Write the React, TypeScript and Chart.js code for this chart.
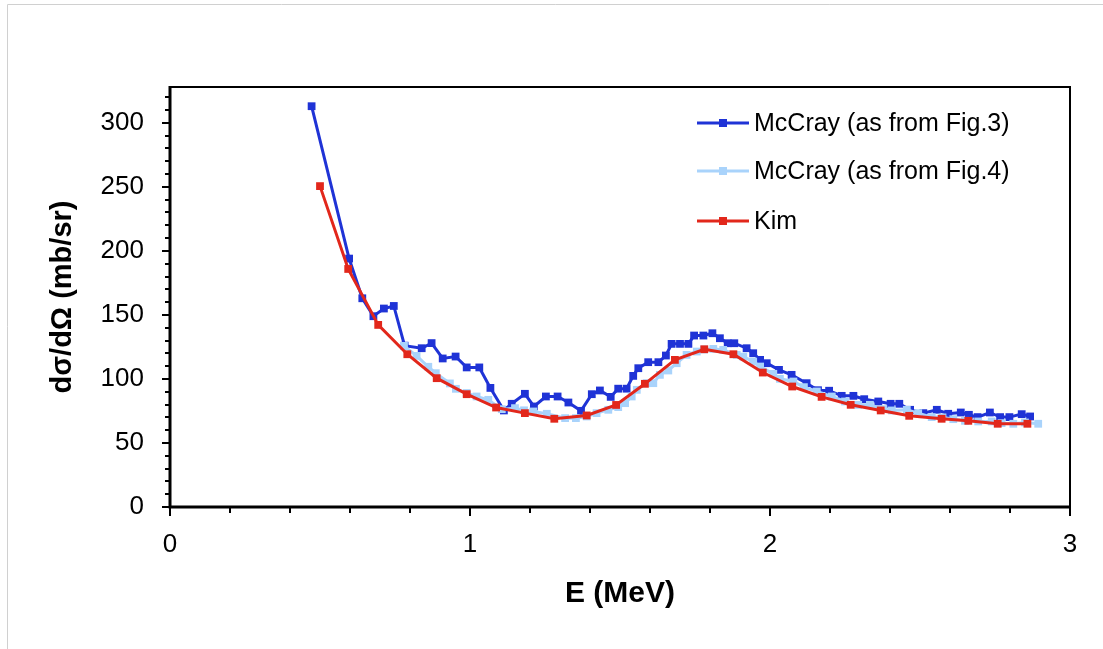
import React, { useEffect, useRef } from "react";
import { Chart, registerables } from "chart.js";

Chart.register(...registerables);

// ---- Data ----
const seriesLabels = ["McCray (as from Fig.3)", "McCray (as from Fig.4)", "Kim"];
const seriesColors = ["#1f33d6", "#a9d3fb", "#e2271b"];

const fig3E = [0.472, 0.597, 0.641, 0.678, 0.713, 0.746, 0.782, 0.839, 0.872, 0.909, 0.952, 0.989, 1.031, 1.068, 1.113, 1.139, 1.183, 1.213, 1.253, 1.292, 1.328, 1.37, 1.406, 1.433, 1.469, 1.494, 1.522, 1.544, 1.561, 1.594, 1.628, 1.653, 1.672, 1.7, 1.728, 1.747, 1.778, 1.808, 1.833, 1.859, 1.881, 1.922, 1.944, 1.967, 1.989, 2.03, 2.072, 2.122, 2.16, 2.197, 2.239, 2.278, 2.314, 2.361, 2.402, 2.431, 2.467, 2.511, 2.556, 2.594, 2.636, 2.663, 2.692, 2.733, 2.767, 2.798, 2.839, 2.867];
const fig3V = [313, 194, 163, 149, 155, 157, 126, 124, 128, 116, 117.5, 109, 109, 93, 75.4, 80.6, 88.4, 78.5, 86.3, 86.3, 81.6, 75.1, 88.1, 91, 86, 92.4, 92.4, 102.4, 108.4, 113.1, 113.1, 118.3, 127.4, 127.4, 127.4, 133.9, 133.9, 135.7, 131.8, 127.9, 127.9, 124, 120.1, 114.9, 112.3, 107.1, 103.2, 96.7, 91.2, 90.8, 86.8, 86.8, 84.2, 82.4, 80.6, 80.6, 75.9, 73.3, 75.9, 72.8, 73.8, 72, 70.2, 73.8, 70.2, 70.2, 72.5, 70.7];

const fig4E = [0.78, 0.822, 0.861, 0.886, 0.933, 0.953, 0.989, 1.022, 1.061, 1.106, 1.15, 1.18, 1.211, 1.256, 1.317, 1.353, 1.389, 1.422, 1.461, 1.494, 1.517, 1.539, 1.556, 1.589, 1.611, 1.633, 1.661, 1.689, 1.722, 1.756, 1.78, 1.811, 1.844, 1.889, 1.911, 1.944, 1.967, 2.011, 2.033, 2.078, 2.113, 2.156, 2.206, 2.25, 2.294, 2.333, 2.378, 2.406, 2.456, 2.494, 2.539, 2.575, 2.611, 2.65, 2.694, 2.739, 2.772, 2.811, 2.85, 2.894];
const fig4V = [125.8, 118, 109.5, 104.5, 96.5, 92.3, 89, 86.3, 83.7, 76.4, 77.2, 75.5, 74.6, 72.8, 69.4, 69.4, 70.7, 73.3, 75.9, 78, 81.1, 86.3, 91.5, 96.7, 96.7, 103.2, 106.6, 112.3, 118.8, 121.4, 123, 123.5, 122.7, 118.8, 117.5, 113.6, 109.7, 104, 100.1, 98, 93.6, 90.2, 86.3, 82.4, 79.8, 79.8, 76.4, 75.4, 75.9, 73.3, 70.2, 70, 68.6, 67.3, 66.8, 66.8, 65.5, 65, 66, 65];

const kimE = [0.5, 0.594, 0.694, 0.791, 0.889, 0.989, 1.087, 1.183, 1.281, 1.389, 1.487, 1.583, 1.683, 1.781, 1.878, 1.976, 2.074, 2.172, 2.269, 2.369, 2.464, 2.572, 2.661, 2.759, 2.858];
const kimV = [250.6, 185.9, 142.2, 119.3, 100.6, 88.1, 77.7, 73.3, 68.9, 71.5, 79.7, 96.2, 114.9, 123.2, 119.3, 105, 94.1, 86, 79.8, 75.4, 71.2, 68.9, 67.3, 65, 65];

const xTickValues = [0, 1, 2, 3];
const yTickValues = [0, 50, 100, 150, 200, 250, 300];
const xTitle = "E (MeV)";
const yTitle = "dσ/dΩ (mb/sr)";

const FONT = "'Liberation Sans', Arial, Helvetica, sans-serif";

const toPoints = (xs: number[], ys: number[]) => xs.map((x, i) => ({ x, y: ys[i] }));

const framePlugin = {
  id: "frameTicks",
  beforeDraw(chart: any) {
    const { ctx, width, height } = chart;
    ctx.save();
    ctx.strokeStyle = "#d0d0d0";
    ctx.lineWidth = 1;
    ctx.beginPath();
    ctx.moveTo(7.5, height);
    ctx.lineTo(7.5, 4.5);
    ctx.lineTo(width, 4.5);
    ctx.stroke();
    ctx.restore();
  },
  afterDraw(chart: any) {
    const { ctx, chartArea, scales } = chart;
    const { left, right, top, bottom } = chartArea;
    const x = scales.x;
    const y = scales.y;
    ctx.save();
    ctx.strokeStyle = "#000";
    ctx.lineWidth = 2;
    ctx.beginPath();
    for (let i = 0; i <= 32; i++) {
      const v = i * 10;
      const py = Math.round(y.getPixelForValue(v));
      const len = i % 5 === 0 ? 8 : 5;
      ctx.moveTo(left - len, py);
      ctx.lineTo(left, py);
    }
    for (let i = 0; i <= 15; i++) {
      const v = i * 0.2;
      const px = Math.round(x.getPixelForValue(v));
      const len = i % 5 === 0 ? 9 : 6;
      ctx.moveTo(px, bottom);
      ctx.lineTo(px, bottom + len);
    }
    ctx.stroke();
    ctx.lineWidth = 2;
    ctx.strokeRect(left, top, right - left, bottom - top);
    ctx.lineWidth = 3;
    ctx.beginPath();
    ctx.moveTo(left, top - 1);
    ctx.lineTo(left, bottom);
    ctx.lineTo(right + 1, bottom);
    ctx.stroke();
    ctx.restore();
  },
};

const legendPlugin = {
  id: "insideLegend",
  afterDraw(chart: any) {
    const { ctx } = chart;
    const rows = [123, 171, 221];
    ctx.save();
    chart.data.datasets.forEach((ds: any, i: number) => {
      const yy = rows[i];
      ctx.strokeStyle = ds.borderColor;
      ctx.lineWidth = 3;
      ctx.beginPath();
      ctx.moveTo(697, yy);
      ctx.lineTo(749, yy);
      ctx.stroke();
      ctx.fillStyle = ds.borderColor;
      ctx.fillRect(723 - 4, yy - 4, 8, 8);
      ctx.fillStyle = "#000";
      ctx.font = `25px ${FONT}`;
      ctx.textBaseline = "middle";
      ctx.textAlign = "left";
      ctx.fillText(ds.label, 754, yy + 1);
    });
    ctx.restore();
  },
};

export default function App() {
  const canvasRef = useRef<HTMLCanvasElement | null>(null);

  useEffect(() => {
    const canvas = canvasRef.current;
    if (!canvas) return;
    const makeDs = (i: number, xs: number[], ys: number[], order: number) => ({
      label: seriesLabels[i],
      data: toPoints(xs, ys),
      borderColor: seriesColors[i],
      backgroundColor: seriesColors[i],
      borderWidth: 3,
      pointStyle: "rect",
      pointRadius: 5.5,
      pointBorderWidth: 0,
      pointBackgroundColor: seriesColors[i],
      tension: 0,
      order,
    });
    const chart = new Chart(canvas, {
      type: "line",
      data: {
        datasets: [
          makeDs(0, fig3E, fig3V, 3),
          makeDs(1, fig4E, fig4V, 2),
          makeDs(2, kimE, kimV, 1),
        ],
      },
      options: {
        animation: false,
        responsive: false,
        devicePixelRatio: 1,
        layout: { padding: { left: 0, top: 87, right: 33, bottom: 0 } },
        plugins: { legend: { display: false }, tooltip: { enabled: false } },
        scales: {
          x: {
            type: "linear",
            min: 0,
            max: 3,
            afterBuildTicks: (scale: any) => {
              scale.ticks = xTickValues.map((v) => ({ value: v }));
            },
            afterFit: (scale: any) => {
              scale.height = 142;
            },
            grid: { display: true, drawOnChartArea: false, drawTicks: false },
            border: { display: false },
            ticks: {
              color: "#000",
              font: { family: FONT, size: 26 },
              padding: 22,
              maxRotation: 0,
            },
            title: {
              display: true,
              text: xTitle,
              color: "#000",
              font: { family: FONT, size: 30, weight: "bold" },
              padding: { top: 0, bottom: 37 },
            },
          },
          y: {
            type: "linear",
            min: 0,
            max: 328,
            afterBuildTicks: (scale: any) => {
              scale.ticks = yTickValues.map((v) => ({ value: v }));
            },
            afterFit: (scale: any) => {
              scale.width = 170;
            },
            grid: { display: true, drawOnChartArea: false, drawTicks: false },
            border: { display: false },
            ticks: {
              color: "#000",
              font: { family: FONT, size: 26 },
              padding: 26,
            },
            title: {
              display: true,
              text: yTitle,
              color: "#000",
              font: { family: FONT, size: 29, weight: "bold" },
              padding: { top: 46, bottom: 0 },
            },
          },
        },
      },
      plugins: [framePlugin, legendPlugin],
    } as any);
    return () => chart.destroy();
  }, []);

  return (
    <div style={{ position: "absolute", left: 0, top: 0, width: 1103, height: 649, background: "#fff" }}>
      <canvas ref={canvasRef} width={1103} height={649} style={{ display: "block", width: 1103, height: 649 }} />
    </div>
  );
}
